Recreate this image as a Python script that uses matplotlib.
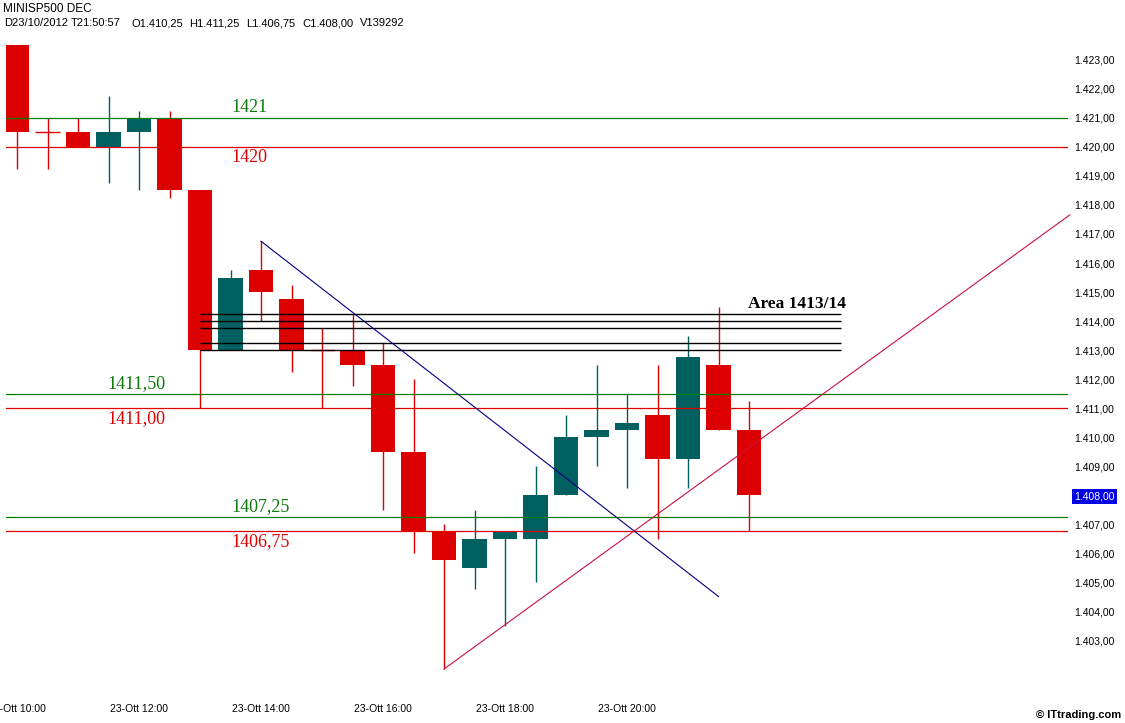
import matplotlib
matplotlib.use('Agg')
import matplotlib.pyplot as plt
import numpy as np

# ---- data (30-minute candles, 23 Oct 2012, 10:00 .. 22:00) ----
opens = [1423.5, 1420.5, 1420.5, 1420.0, 1420.5, 1421.0, 1418.5, 1413.0, 1415.75, 1414.75,
         1413.0, 1413.0, 1412.5, 1409.5, 1406.75, 1405.5, 1406.5, 1406.5, 1408.0, 1410.0,
         1410.25, 1410.75, 1409.25, 1412.5, 1410.25]
highs = [1423.5, 1421.0, 1421.0, 1421.75, 1421.25, 1421.25, 1418.5, 1415.75, 1416.75, 1415.25,
         1413.75, 1414.25, 1413.25, 1412.0, 1407.0, 1407.5, 1406.75, 1409.0, 1410.75, 1412.5,
         1411.5, 1412.5, 1413.5, 1414.5, 1411.25]
lows = [1419.25, 1419.25, 1420.0, 1418.75, 1418.5, 1418.25, 1411.0, 1413.0, 1414.0, 1412.25,
        1411.0, 1411.75, 1407.5, 1406.0, 1402.0, 1404.75, 1403.5, 1405.0, 1408.0, 1409.0,
        1408.25, 1406.5, 1408.25, 1410.25, 1406.75]
closes = [1420.5, 1420.5, 1420.0, 1420.5, 1421.0, 1418.5, 1413.0, 1415.5, 1415.0, 1413.0,
          1413.0, 1412.5, 1409.5, 1406.75, 1405.75, 1406.5, 1406.75, 1408.0, 1410.0, 1410.25,
          1410.5, 1409.25, 1412.75, 1410.25, 1408.0]

time_tick_pos = [0, 4, 8, 12, 16, 20]
time_tick_labels = ['23-Ott 10:00', '23-Ott 12:00', '23-Ott 14:00',
                    '23-Ott 16:00', '23-Ott 18:00', '23-Ott 20:00']
price_ticks = list(range(1403, 1424))
last_price = 1408.0

green_levels = [1421.0, 1411.5, 1407.25]
green_labels = ['1421', '1411,50', '1407,25']
red_levels = [1420.0, 1411.0, 1406.75]
red_labels = ['1420', '1411,00', '1406,75']
label_x = [7.02, 2.98, 7.02]

area_levels = [1414.25, 1414.0, 1413.75, 1413.25, 1413.0]
area_x = [6, 27]
area_label = 'Area 1413/14'

down_trend_x = [8, 23]
down_trend_y = [1416.75, 1404.5]
up_trend_x = [14, 34.52]
up_trend_y = [1402.0, 1417.66]

header1 = 'MINISP500 DEC'
header2_parts = ['D23/10/2012', 'T21:50:57', 'O1.410,25', 'H1.411,25',
                 'L1.406,75', 'C1.408,00', 'V139292']
header2_x = [4, 71, 131, 189, 246, 302, 360]

RED = '#dc0000'
TEAL = '#005f5f'
GREEN_LINE = '#008000'
GREEN_TEXT = '#0a780a'
RED_LINE = '#e00000'
SANS = ['Liberation Sans', 'DejaVu Sans']
SERIF = ['Liberation Serif', 'DejaVu Serif']

W, H = 1125, 723
fig = plt.figure(figsize=(W / 100, H / 100), dpi=100)
fig.patch.set_facecolor('white')
ax = fig.add_axes([6 / W, (H - 690) / H, (1068 - 6) / W, (690 - 35) / H])
ax.set_xlim(-0.361, 34.459)
ax.set_ylim(1401.276, 1423.862)
for s in ax.spines.values():
    s.set_visible(False)

idx = np.arange(len(opens))
o = np.array(opens); c = np.array(closes)
colors = [TEAL if cc > oo else RED for oo, cc in zip(o, c)]
ax.vlines(idx, lows, highs, colors=colors, lw=1.0, zorder=2)
bodies_bottom = np.minimum(o, c)
bodies_h = np.abs(c - o)
ax.bar(idx, bodies_h, bottom=bodies_bottom, width=0.79, color=colors, lw=0, zorder=3)
doji = bodies_h == 0
ax.hlines(o[doji], idx[doji] - 0.395, idx[doji] + 0.395,
          colors=[colors[i] for i in idx[doji]], lw=1.0, zorder=3)

# horizontal support / resistance
for lev in green_levels:
    ax.axhline(lev, color=GREEN_LINE, lw=0.9, zorder=4)
for lev in red_levels:
    ax.axhline(lev, color=RED_LINE, lw=0.9, zorder=4)
for lev, lab, xx in zip(green_levels, green_labels, label_x):
    ax.text(xx, lev + 0.35, lab, color=GREEN_TEXT, fontsize=13, family=SERIF,
            ha='left', va='center', zorder=6)
for lev, lab, xx in zip(red_levels, red_labels, label_x):
    ax.text(xx, lev - 0.35, lab, color=RED_LINE, fontsize=13, family=SERIF,
            ha='left', va='center', zorder=6)

ax.hlines(area_levels, area_x[0], area_x[1], colors='black', lw=1.0, zorder=4)
ax.text(23.97, area_levels[0] + 0.33, area_label, color='black', fontsize=12.5,
        fontweight='bold', family=SERIF, ha='left', va='center', zorder=6)

ax.plot(down_trend_x, down_trend_y, color='#000080', lw=0.8, zorder=5)
ax.plot(up_trend_x, up_trend_y, color='#cc1040', lw=0.8, zorder=5, clip_on=False)

# axes ticks
ax.yaxis.tick_right()
ax.set_yticks(price_ticks)
ax.set_yticklabels([('1.%03d,00' % (p - 1000)) for p in price_ticks], family=SANS)
ax.tick_params(axis='y', length=0, pad=4.5, labelsize=7.5, labelcolor='black')
for t, p in zip(ax.get_yticklabels(), price_ticks):
    if p == last_price:
        t.set_color('white')
        t.set_bbox(dict(facecolor='#0000e6', edgecolor='none', pad=1.8))
ax.set_xticks(time_tick_pos)
ax.set_xticklabels(time_tick_labels, family=SANS)
ax.tick_params(axis='x', length=0, pad=10, labelsize=7.5)

fig.text(3 / W, 1 - 9 / H, header1, fontsize=8.5, family=SANS, ha='left', va='center')
for part, xx in zip(header2_parts, header2_x):
    fig.text(xx / W, 1 - 23 / H, part, fontsize=8, family=SANS, ha='left', va='center')
fig.text(1121 / W, 1 - 715 / H, '\u00a9 ITtrading.com', fontsize=8, fontweight='bold',
         family=SANS, ha='right', va='center')

fig.savefig('out.png', dpi=100, facecolor='white')
